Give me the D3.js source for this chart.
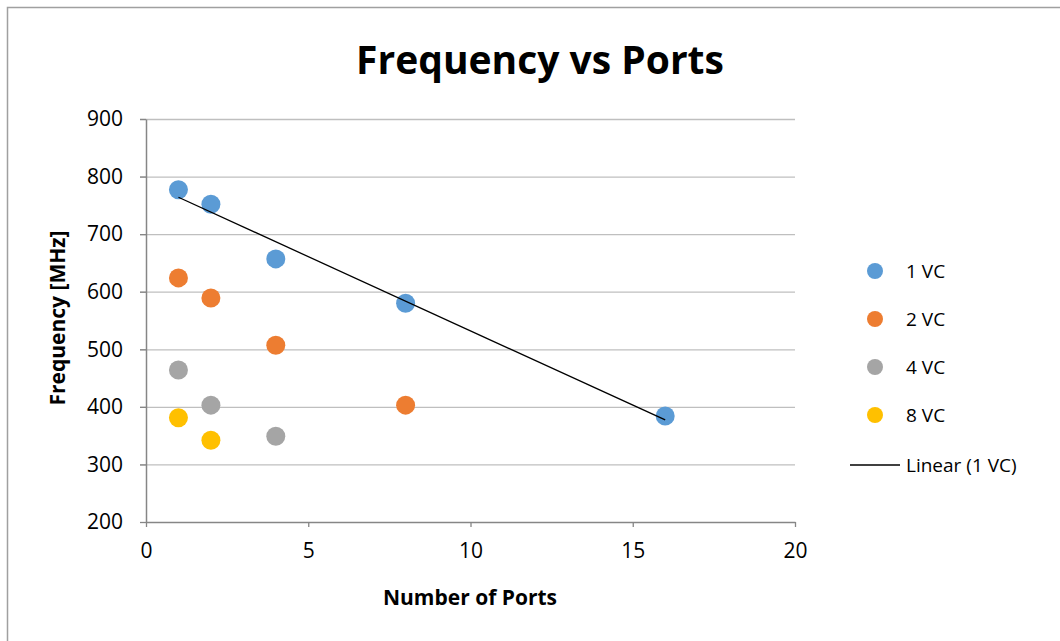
<!DOCTYPE html>
<html>
<head>
<meta charset="utf-8">
<script src="https://cdn.jsdelivr.net/npm/d3@7"></script>
<style>
  body { margin: 0; background: #fff; }
  text { font-family: "Open Sans", "Noto Sans", sans-serif; fill: #000; }
</style>
</head>
<body>
<svg id="chart" width="1060" height="641"></svg>
<script>
// Dữ liệu
const ports = [1, 2, 4, 8, 16];
const vc1 = [777, 752, 657, 580, 384];
const vc2 = [624, 589, 507, 403];
const vc4 = [464, 403, 349];
const vc8 = [381, 342];
const seriesNames = ["1 VC", "2 VC", "4 VC", "8 VC"];
const seriesColors = ["#5B9BD5", "#ED7D31", "#A5A5A5", "#FFC000"];
const xTicks = [0, 5, 10, 15, 20];
const yTicks = [200, 300, 400, 500, 600, 700, 800, 900];

const series = [vc1, vc2, vc4, vc8].map((vals, i) => ({
  name: seriesNames[i],
  color: seriesColors[i],
  points: vals.map((v, j) => ({x: ports[j], y: v}))
}));

const svg = d3.select("#chart");

// khung ngoài
svg.append("rect")
  .attr("x", 7.5).attr("y", 7.5)
  .attr("width", 1060).attr("height", 640)
  .attr("fill", "none").attr("stroke", "#a0a0a0").attr("stroke-width", 1.5);

const x = d3.scaleLinear().domain([0, 20]).range([146, 795]);
const y = d3.scaleLinear().domain([200, 900]).range([522, 119]);

// lưới ngang
svg.append("g")
  .selectAll("line")
  .data(yTicks.filter(d => d > 200))
  .enter().append("line")
    .attr("x1", x(0) - 6).attr("x2", x(20))
    .attr("y1", d => y(d) + 0.5).attr("y2", d => y(d) + 0.5)
    .attr("stroke", "#bfbfbf").attr("stroke-width", 1.3);

// Trục Y
const gy = svg.append("g")
  .attr("transform", `translate(${x(0)},0)`)
  .call(d3.axisLeft(y).tickValues(yTicks).tickSize(6).tickPadding(17).tickSizeOuter(0));
gy.select(".domain").attr("stroke", "#868686").attr("stroke-width", 1.5);
gy.selectAll(".tick line").attr("stroke", "#868686").attr("stroke-width", 1.3);
gy.selectAll(".tick text").style("font-size", "21px");

// Trục X
const gx = svg.append("g")
  .attr("transform", `translate(0,${y(200)})`)
  .call(d3.axisBottom(x).tickValues(xTicks).tickSize(5).tickPadding(16).tickSizeOuter(0));
gx.select(".domain").attr("stroke", "#868686").attr("stroke-width", 1.5);
gx.selectAll(".tick line").attr("stroke", "#868686").attr("stroke-width", 1.3);
gx.selectAll(".tick text").style("font-size", "21px");

// Đường xu hướng tuyến tính (1 VC)
const mx = d3.mean(series[0].points, d => d.x);
const my = d3.mean(series[0].points, d => d.y);
const slope = d3.sum(series[0].points, d => (d.x - mx) * (d.y - my)) /
              d3.sum(series[0].points, d => (d.x - mx) ** 2);
const icpt = my - slope * mx;
const xr = d3.extent(series[0].points, d => d.x);

// Vẽ các điểm
series.forEach(s => {
  svg.append("g")
    .selectAll("circle")
    .data(s.points)
    .enter().append("circle")
      .attr("cx", d => x(d.x))
      .attr("cy", d => y(d.y))
      .attr("r", 9.5)
      .attr("fill", s.color);
});

// đường xu hướng nằm trên điểm
svg.append("path")
  .datum(xr.map(v => ({x: v, y: icpt + slope * v})))
  .attr("fill", "none")
  .attr("stroke", "#000")
  .attr("stroke-width", 1.3)
  .attr("d", d3.line().x(d => x(d.x)).y(d => y(d.y)));

// Tiêu đề
svg.append("text")
  .attr("x", 540).attr("y", 74)
  .attr("text-anchor", "middle")
  .style("font-size", "39px").style("font-weight", "bold")
  .text("Frequency vs Ports");

svg.append("text")
  .attr("x", 470).attr("y", 605)
  .attr("text-anchor", "middle")
  .style("font-size", "21px").style("font-weight", "bold")
  .text("Number of Ports");

svg.append("text")
  .attr("transform", "translate(65,318) rotate(-90)")
  .attr("text-anchor", "middle")
  .style("font-size", "21px").style("font-weight", "bold")
  .text("Frequency [MHz]");

// Chú thích
const legend = svg.append("g");
series.forEach((s, i) => {
  legend.append("circle")
    .attr("cx", 875).attr("cy", 271 + i * 48)
    .attr("r", 8).attr("fill", s.color);
  legend.append("text")
    .attr("x", 906).attr("y", 271 + i * 48 + 7)
    .style("font-size", "19px")
    .text(s.name);
});
legend.append("line")
  .attr("x1", 850).attr("x2", 900)
  .attr("y1", 465).attr("y2", 465)
  .attr("stroke", "#000").attr("stroke-width", 1.3);
legend.append("text")
  .attr("x", 906).attr("y", 472)
  .style("font-size", "19px")
  .text("Linear (1 VC)");
</script>
</body>
</html>
